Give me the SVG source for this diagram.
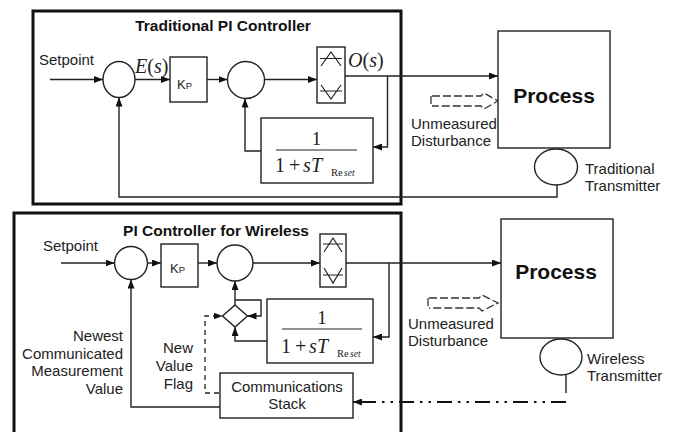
<svg xmlns="http://www.w3.org/2000/svg" width="677" height="432" viewBox="0 0 677 432">
  <style>
    .bg { fill: #ffffff; }
    .frame { fill: none; stroke: #111; stroke-width: 3; }
    .box { fill: #ffffff; stroke: #222; stroke-width: 1.4; }
    .wire { fill: none; stroke: #222; stroke-width: 1.4; }
    .arrow { marker-end: url(#arr); }
    .flag { fill: none; stroke: #222; stroke-width: 1.3; stroke-dasharray: 5 4; }
    .dist { fill: none; stroke: #333; stroke-width: 1.3; stroke-dasharray: 8 3; }
    .radio { fill: none; stroke: #111; stroke-width: 2.2; stroke-dasharray: 15 6 2.5 6 2.5 6; }
    .sym { fill: none; stroke: #222; stroke-width: 1.2; }
    .lbl { font-family: "Liberation Sans", Arial, sans-serif; font-size: 15px; fill: #222; }
    .ttl { font-family: "Liberation Sans", Arial, sans-serif; font-size: 15.5px; font-weight: bold; fill: #111; }
    .proc { font-family: "Liberation Sans", Arial, sans-serif; font-size: 21px; font-weight: bold; fill: #111; }
    .math { font-family: "Liberation Serif", "Times New Roman", serif; fill: #222; }
    .k { font-family: "Liberation Sans", Arial, sans-serif; fill: #222; }
  </style>
  <defs>
    <marker id="arr" markerWidth="9" markerHeight="7" refX="9" refY="3.5" orient="auto" markerUnits="userSpaceOnUse">
      <path d="M0,0 L9,3.5 L0,7 z" fill="#111"/>
    </marker>
  </defs>

  <rect class="bg" x="0" y="0" width="677" height="432"/>

  <!-- Controller frames -->
  <g id="frame-traditional">
    <rect class="frame" x="33" y="11" width="368" height="193"/>
    <text class="ttl" x="223" y="31" text-anchor="middle">Traditional PI Controller</text>
  </g>
  <g id="frame-wireless">
    <rect class="frame" x="14" y="213" width="387" height="240"/>
    <text class="ttl" x="216" y="236" text-anchor="middle">PI Controller for Wireless</text>
  </g>

  <!-- Connectors -->
  <g id="connectors">
    <!-- traditional loop -->
    <line class="wire arrow" x1="50" y1="79.5" x2="103" y2="79.5"/>
    <line class="wire arrow" x1="135" y1="79.5" x2="170" y2="79.5"/>
    <line class="wire arrow" x1="207" y1="79.5" x2="227.5" y2="79.5"/>
    <line class="wire arrow" x1="264.5" y1="79.5" x2="317" y2="79.5"/>
    <line class="wire arrow" x1="345" y1="76" x2="498" y2="76"/>
    <polyline class="wire arrow" points="387.5,76 387.5,147 373,147"/>
    <polyline class="wire arrow" points="261,151 245,151 245,98.5"/>
    <polyline class="wire arrow" points="557,185 557,197 119,197 119,97.5"/>
    <path class="dist" d="M431,96 V106 M432,96 H481 L484,93 L498,101 L484,109 L481,106 H432"/>

    <!-- wireless loop -->
    <line class="wire arrow" x1="61" y1="263" x2="114.5" y2="263"/>
    <line class="wire arrow" x1="147.5" y1="263" x2="161" y2="263"/>
    <line class="wire arrow" x1="198" y1="263" x2="217" y2="263"/>
    <line class="wire arrow" x1="253" y1="263" x2="320" y2="263"/>
    <line class="wire arrow" x1="346" y1="263" x2="501" y2="263"/>
    <polyline class="wire arrow" points="389,263 389,337 373,337"/>
    <line class="wire arrow" x1="235" y1="305" x2="235" y2="281"/>
    <polyline class="wire arrow" points="235,300 261,300 261,316 247.5,316"/>
    <polyline class="wire arrow" points="267,341 235,341 235,327"/>
    <polyline class="flag arrow" points="219,393 205,393 205,316 222.5,316"/>
    <polyline class="wire arrow" points="220,407 131,407 131,279.5"/>
    <line class="wire" x1="566" y1="375" x2="566" y2="393" stroke-width="2.2"/>
    <line class="radio arrow" x1="566" y1="402" x2="353" y2="402"/>
    <path class="dist" d="M428,298 V308 M429,298 H479 L482,295 L498,303 L482,311 L479,308 H429"/>
  </g>

  <!-- Traditional controller nodes -->
  <g id="sum-error-1">
    <ellipse class="box" cx="119" cy="79.5" rx="16" ry="18"/>
  </g>
  <g id="gain-1">
    <rect class="box" x="170" y="57" width="37" height="45"/>
    <text class="k" x="177" y="89" font-size="13">K<tspan font-size="9.5">P</tspan></text>
  </g>
  <g id="sum-integral-1">
    <circle class="box" cx="246" cy="80" r="18.5"/>
  </g>
  <g id="limiter-1">
    <rect class="box" x="317" y="47" width="28" height="56"/>
    <path class="sym" d="M321,66 L331,52 L341,66 M320,58.5 H342"/>
    <path class="sym" d="M321,85 L331,99 L341,85 M320,91 H342"/>
  </g>
  <g id="reset-filter-1">
    <rect class="box" x="261" y="118" width="112" height="65"/>
    <text class="math" x="316.5" y="145" font-size="19" text-anchor="middle">1</text>
    <line class="sym" x1="276" y1="150" x2="357" y2="150"/>
    <text class="math" font-size="20" y="172"><tspan x="275">1</tspan><tspan x="289">+</tspan><tspan x="303" font-style="italic">s</tspan><tspan x="311" font-style="italic">T</tspan></text>
    <text class="math" font-size="10.5" y="176"><tspan x="331">Re</tspan><tspan x="344" font-style="italic" font-size="9.5">set</tspan></text>
  </g>
  <g id="process-1">
    <rect class="box" x="498" y="31" width="112" height="117"/>
    <text class="proc" x="554" y="103" text-anchor="middle">Process</text>
  </g>
  <g id="transmitter-1">
    <ellipse class="box" cx="556" cy="167" rx="21.5" ry="18"/>
    <text class="lbl" x="585" y="174">Traditional</text>
    <text class="lbl" x="585" y="191">Transmitter</text>
  </g>
  <g id="labels-1">
    <text class="lbl" x="39" y="65">Setpoint</text>
    <text class="math" x="135" y="73" font-size="20"><tspan font-style="italic">E</tspan>(<tspan font-style="italic">s</tspan>)</text>
    <text class="math" x="348" y="67" font-size="20"><tspan font-style="italic">O</tspan>(<tspan font-style="italic">s</tspan>)</text>
    <text class="lbl" x="411" y="129">Unmeasured</text>
    <text class="lbl" x="411" y="146">Disturbance</text>
  </g>

  <!-- Wireless controller nodes -->
  <g id="sum-error-2">
    <circle class="box" cx="131" cy="263" r="16.5"/>
  </g>
  <g id="gain-2">
    <rect class="box" x="161" y="244" width="37" height="43"/>
    <text class="k" x="170" y="273" font-size="13">K<tspan font-size="9.5">P</tspan></text>
  </g>
  <g id="sum-integral-2">
    <circle class="box" cx="235" cy="263" r="18"/>
  </g>
  <g id="hold-switch">
    <path class="box" d="M235,305 L247.5,316 L235,327 L222.5,316 Z"/>
  </g>
  <g id="limiter-2">
    <rect class="box" x="320" y="234" width="26" height="53"/>
    <path class="sym" d="M324,252 L333,238 L342,252 M323,244 H343"/>
    <path class="sym" d="M324,268 L333,283 L342,268 M323,275 H343"/>
  </g>
  <g id="reset-filter-2">
    <rect class="box" x="267" y="299" width="106" height="64"/>
    <text class="math" x="322" y="324" font-size="19" text-anchor="middle">1</text>
    <line class="sym" x1="282" y1="329" x2="362" y2="329"/>
    <text class="math" font-size="20" y="353"><tspan x="281">1</tspan><tspan x="295">+</tspan><tspan x="309" font-style="italic">s</tspan><tspan x="317" font-style="italic">T</tspan></text>
    <text class="math" font-size="10.5" y="357"><tspan x="337">Re</tspan><tspan x="350" font-style="italic" font-size="9.5">set</tspan></text>
  </g>
  <g id="comms-stack">
    <rect class="box" x="220" y="373" width="133" height="45"/>
    <text class="lbl" x="287" y="392" text-anchor="middle">Communications</text>
    <text class="lbl" x="287" y="409" text-anchor="middle">Stack</text>
  </g>
  <g id="process-2">
    <rect class="box" x="501" y="219" width="112" height="119"/>
    <text class="proc" x="556" y="279" text-anchor="middle">Process</text>
  </g>
  <g id="transmitter-2">
    <ellipse class="box" cx="561" cy="357" rx="21" ry="18"/>
    <text class="lbl" x="587" y="364">Wireless</text>
    <text class="lbl" x="587" y="381">Transmitter</text>
  </g>
  <g id="labels-2">
    <text class="lbl" x="43" y="251">Setpoint</text>
    <text class="lbl" x="408" y="329">Unmeasured</text>
    <text class="lbl" x="408" y="346">Disturbance</text>
    <text class="lbl" text-anchor="end" x="123" y="341">Newest</text>
    <text class="lbl" text-anchor="end" x="123" y="359">Communicated</text>
    <text class="lbl" text-anchor="end" x="123" y="376">Measurement</text>
    <text class="lbl" text-anchor="end" x="123" y="394">Value</text>
    <text class="lbl" text-anchor="end" x="193" y="353">New</text>
    <text class="lbl" text-anchor="end" x="193" y="371">Value</text>
    <text class="lbl" text-anchor="end" x="193" y="389">Flag</text>
  </g>
</svg>
